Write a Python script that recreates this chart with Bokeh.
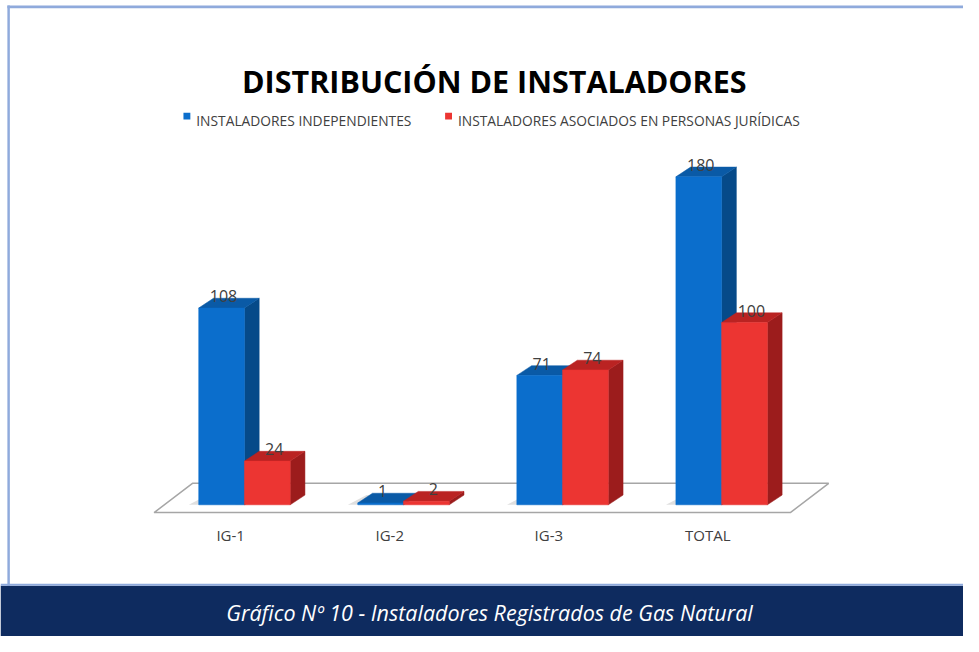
from bokeh.plotting import figure
from bokeh.models import Range1d, Label, BoxAnnotation
from bokeh.embed import file_html
from bokeh.resources import INLINE
from bokeh.core.properties import value

# ---------------- data ----------------
categories = ["IG-1", "IG-2", "IG-3", "TOTAL"]
independientes = [108, 1, 71, 180]
asociados = [24, 2, 74, 100]
series_names = ["INSTALADORES INDEPENDIENTES", "INSTALADORES ASOCIADOS EN PERSONAS JURÍDICAS"]
title_text = "DISTRIBUCIÓN DE INSTALADORES"
caption_text = "Gráfico Nº 10 -  Instaladores Registrados de Gas Natural"

# ---------------- layout constants ----------------
W, H = 963, 636
SX = W / 979.0
SY = H / 652.0


def sx(x):          # design x (979 wide) -> screen x
    return x * SX


def sy(y):          # design y from top (652 high) -> screen y from bottom
    return H - y * SY


PX_X = 161.7 * SX     # pixels per category step
PX_Y = 1.868 * SY     # pixels per unit of value
X0 = 248 * SX         # screen x of first category centre
Y0 = sy(517)          # screen y (from bottom) of value 0

BW = 46.5 * SX / PX_X  # bar width
DX = 15 * SX / PX_X    # 3D depth, x
DY = 10 * SY / PX_Y    # 3D depth, y

FRONT = {"blue": "#0B6ECC", "red": "#EC3532"}
SIDE = {"blue": "#064A89", "red": "#9C1C1C"}
TOP = {"blue": "#0A5AA6", "red": "#BA2322"}
TXT = "#404040"
FONT = "Open Sans"

p = figure(width=W, height=H,
           x_range=Range1d(-X0 / PX_X, (W - X0) / PX_X),
           y_range=Range1d(-Y0 / PX_Y, (H - Y0) / PX_Y),
           output_backend="svg", toolbar_location=None,
           x_axis_location=None, y_axis_location=None, min_border=0)
p.grid.visible = False
p.outline_line_color = None
p.background_fill_color = "white"
p.border_fill_color = "white"

n = len(categories)
px = 1 / PX_X * SX    # one design pixel in x data units
py = 1 / PX_Y * SY    # one design pixel in y data units

# ---------------- floor ----------------
fl = -0.5 - 11 * px
fr = n - 0.5 - 11 * px
fy = -8 * py
fdx = 39 * px
fdy = 30 * py
p.patch([fl, fr, fr + fdx, fl + fdx], [fy, fy, fy + fdy, fy + fdy],
        fill_color="white", line_color="#A6A6A6", line_width=1.5)

# soft shadows on the floor
for vals, off in ((independientes, -BW), (asociados, 0.0)):
    xs, ys = [], []
    for i, v in enumerate(vals):
        l = i + off
        xs.append([l - 10 * px, l + BW, l + BW + DX, l + DX - 6 * px])
        ys.append([0, 0, DY, DY])
    p.patches(xs, ys, fill_color="#808080", fill_alpha=0.25, line_color=None)


# ---------------- 3D bars ----------------
def draw_series(vals, offset, key, lab_off):
    lefts = [i + offset for i in range(len(vals))]
    rights = [l + BW for l in lefts]
    side_x = [[r, r + DX, r + DX, r] for r in rights]
    side_y = [[0, DY, v + DY, v] for v in vals]
    top_x = [[l, r, r + DX, l + DX] for l, r in zip(lefts, rights)]
    top_y = [[v, v, v + DY, v + DY] for v in vals]
    p.patches(side_x, side_y, fill_color=SIDE[key], line_color=SIDE[key], line_width=0.5)
    p.patches(top_x, top_y, fill_color=TOP[key], line_color=TOP[key], line_width=0.5)
    p.quad(left=lefts, right=rights, bottom=[0] * len(vals), top=vals,
           fill_color=FRONT[key], line_color=FRONT[key], line_width=0.5)
    p.text(x=[(l + r) / 2 + lab_off * px for l, r in zip(lefts, rights)],
           y=[v + DY + 2 * py for v in vals],
           text=[str(v) for v in vals],
           text_font=value(FONT), text_font_size="16px", text_color=TXT,
           text_align="center", text_baseline="alphabetic")


# blue first so the red front covers the blue side
draw_series(independientes, -BW, "blue", 2)
draw_series(asociados, 0.0, "red", 7)

# category labels
p.text(x=[i - 14 * px for i in range(n)], y=[-31 * py] * n, text=categories,
       text_font=value(FONT), text_font_size="15px", text_color=TXT,
       text_align="center", text_baseline="middle")

# ---------------- title & legend ----------------
p.add_layout(Label(x=sx(502), y=sy(83), x_units="screen", y_units="screen", text=title_text,
                   text_font=FONT, text_font_style="bold", text_font_size="30.5px",
                   text_color="#000000", text_align="center", text_baseline="alphabetic"))


def sbox(l, r, b, t, color):
    p.add_layout(BoxAnnotation(left=l, right=r, bottom=b, top=t,
                               left_units="screen", right_units="screen",
                               bottom_units="screen", top_units="screen",
                               fill_color=color, fill_alpha=1, line_color=None))


sbox(sx(186), sx(193), sy(122), sy(115), FRONT["blue"])
p.add_layout(Label(x=sx(199), y=sy(123), x_units="screen", y_units="screen", text=series_names[0],
                   text_font=FONT, text_font_size="13.8px", text_color=TXT,
                   text_baseline="alphabetic"))
sbox(sx(452), sx(459), sy(122), sy(115), FRONT["red"])
p.add_layout(Label(x=sx(465), y=sy(123), x_units="screen", y_units="screen", text=series_names[1],
                   text_font=FONT, text_font_size="13.8px", text_color=TXT,
                   text_baseline="alphabetic"))

# ---------------- frame & caption banner ----------------
sbox(sx(7), W, sy(8), sy(5), "#8FAADC")
sbox(sx(7), sx(9.5), sy(600), sy(5), "#8FAADC")
sbox(0, W, 0, sy(600), "#0E2B5F")
sbox(0, W, sy(600), sy(598), "#8FAADC")

p.add_layout(Label(x=sx(500), y=sy(627), x_units="screen", y_units="screen", text=caption_text,
                   text_font=FONT, text_font_style="italic", text_font_size="21.5px",
                   text_color="white", text_align="center", text_baseline="middle"))

open("out.html", "w").write(file_html(p, INLINE))
